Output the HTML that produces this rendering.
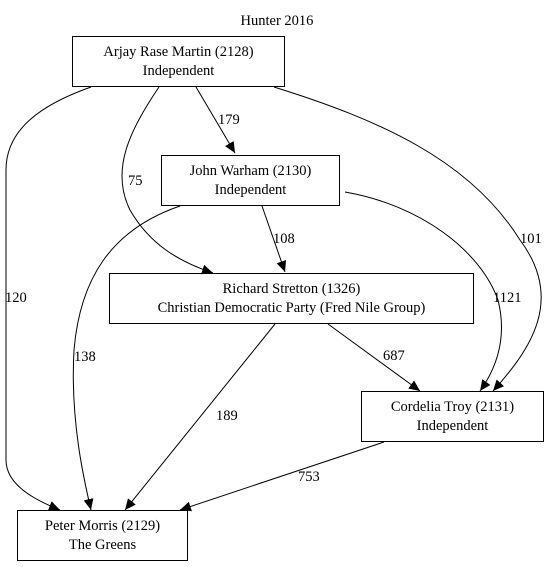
<!DOCTYPE html>
<html><head><style>
html,body{margin:0;padding:0;background:#fff;}
svg{display:block;}
text{font-family:"Liberation Serif",serif;font-size:14.5px;fill:#000;}
</style></head><body>
<svg width="555" height="567" viewBox="0 0 555 567">
<defs><marker id="a" markerWidth="11" markerHeight="10" refX="11" refY="5" orient="auto" markerUnits="userSpaceOnUse"><path d="M0,0 L11,5 L0,10 z" fill="#000"/></marker></defs>
<text x="277" y="25" text-anchor="middle">Hunter 2016</text>
<g fill="none" stroke="#000" stroke-width="1">
<rect x="72.5" y="36.5" width="212" height="50"/>
<rect x="161.5" y="155.5" width="178" height="50"/>
<rect x="109.5" y="273.5" width="364" height="50"/>
<rect x="361.5" y="391.5" width="182" height="50"/>
<rect x="17.5" y="510.5" width="170" height="50"/>
<path d="M196,87 L235,153" marker-end="url(#a)"/>
<path d="M159,87 C130,130 110,170 130,210 C150,245 180,262 213,273" marker-end="url(#a)"/>
<path d="M91,87 C40,105 6,130 6,170 L6,460 C6,485 35,500 60,510" marker-end="url(#a)"/>
<path d="M274,87 C380,120 470,160 520,240 C565,300 530,350 493,391" marker-end="url(#a)"/>
<path d="M262,206 L285,272" marker-end="url(#a)"/>
<path d="M180,206 C110,230 80,280 74,350 C70,420 84,480 91,510" marker-end="url(#a)"/>
<path d="M345,192 C420,205 480,250 498,300 C508,340 495,370 480,391" marker-end="url(#a)"/>
<path d="M328,324 L420,391" marker-end="url(#a)"/>
<path d="M275,324 L125,510" marker-end="url(#a)"/>
<path d="M384,442 L180,510" marker-end="url(#a)"/>
</g>
<text x="178.5" y="56" text-anchor="middle">Arjay Rase Martin (2128)</text>
<text x="178.5" y="75" text-anchor="middle">Independent</text>
<text x="250.5" y="175" text-anchor="middle">John Warham (2130)</text>
<text x="250.5" y="194" text-anchor="middle">Independent</text>
<text x="291.5" y="293" text-anchor="middle">Richard Stretton (1326)</text>
<text x="291.5" y="312" text-anchor="middle">Christian Democratic Party (Fred Nile Group)</text>
<text x="452.5" y="411" text-anchor="middle">Cordelia Troy (2131)</text>
<text x="452.5" y="430" text-anchor="middle">Independent</text>
<text x="102.5" y="530" text-anchor="middle">Peter Morris (2129)</text>
<text x="102.5" y="549" text-anchor="middle">The Greens</text>
<text x="218" y="124">179</text>
<text x="128" y="185">75</text>
<text x="5" y="302">120</text>
<text x="520" y="243">101</text>
<text x="273" y="243">108</text>
<text x="74" y="361">138</text>
<text x="493" y="302">1121</text>
<text x="383" y="360">687</text>
<text x="216" y="420">189</text>
<text x="298" y="481">753</text>
</svg>
</body></html>
